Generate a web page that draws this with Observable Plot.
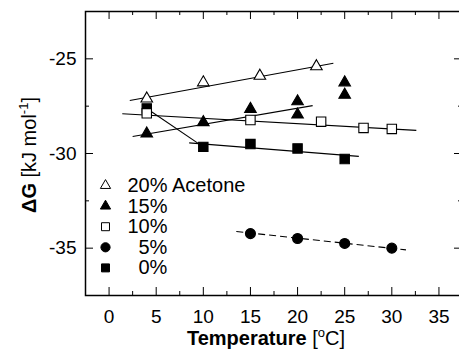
<!DOCTYPE html>
<html><head><meta charset="utf-8">
<script src="https://cdn.jsdelivr.net/npm/d3@7"></script>
<script src="https://cdn.jsdelivr.net/npm/@observablehq/plot@0.6"></script>
<style>
html,body{margin:0;padding:0;background:#fff;overflow:hidden;}
</style></head><body><div id="chart"></div>
<script>
// ---- data ----
const temps20 = [4, 10, 16, 22];
const dG20 = [-27.1, -26.25, -25.9, -25.4];
const temps15 = [4, 10, 15, 20, 20, 25, 25];
const dG15 = [-28.95, -28.35, -27.65, -27.25, -27.95, -26.25, -26.9];
const temps10 = [4, 15, 22.5, 27, 30];
const dG10 = [-27.88, -28.23, -28.32, -28.65, -28.7];
const temps5 = [15, 20, 25, 30];
const dG5 = [-34.23, -34.49, -34.75, -35.0];
const temps0 = [4, 10, 15, 20, 25];
const dG0 = [-27.62, -29.65, -29.5, -29.73, -30.29];

// drawn fit lines: [t start, dG start, t end, dG end]
const fit20 = [2.2, -27.2, 23.8, -25.23];
const fit15 = [2.5, -29.1, 21.6, -27.47];
const fit10 = [1.4, -27.9, 32.6, -28.78];
const fit5 = [13.5, -34.12, 31.5, -35.09];
const fit0 = [8.5, -29.44, 26.5, -30.15];
const join0 = [4, -27.62, 10, -29.65];

const seriesKeys = ["20%", "15%", "10%", "5%", "0%"];
const legendLabels = ["20% Acetone", "15%", "10%", "5%", "0%"];
const xTicks = [0, 5, 10, 15, 20, 25, 30, 35];
const xMinorTicks = [2.5, 7.5, 12.5, 17.5, 22.5, 27.5, 32.5];
const yTicks = [-25, -30, -35];
const yMinorTicks = [-27.5, -32.5];

// ---- styles ----
const W = 462, H = 356, mL = 85, mT = 11, mB = 61, mR = 0;
const FH = H - mT - mB, FW = W - mL - mR;
const FONT = "Liberation Sans, Arial, Helvetica, sans-serif";
const style = {
  "20%": {symbol: "triangle", fill: "white", r: 4.3, lr: 3.8},
  "15%": {symbol: "triangle", fill: "black", r: 4.3, lr: 3.8},
  "10%": {symbol: "square", fill: "white", r: 5.3, lr: 4.5},
  "5%":  {symbol: "circle", fill: "black", r: 5, lr: 4.6},
  "0%":  {symbol: "square", fill: "black", r: 5.3, lr: 4.5}
};
const pts = {
  "20%": temps20.map((t, i) => ({t, g: dG20[i]})),
  "15%": temps15.map((t, i) => ({t, g: dG15[i]})),
  "10%": temps10.map((t, i) => ({t, g: dG10[i]})),
  "5%":  temps5.map((t, i) => ({t, g: dG5[i]})),
  "0%":  temps0.map((t, i) => ({t, g: dG0[i]}))
};
const seg = {x1: d => d[0], y1: d => d[1], x2: d => d[2], y2: d => d[3], stroke: "black", strokeWidth: 1.1};

const marks = [
  Plot.link([fit20, fit15, fit10, fit0, join0], seg),
  Plot.link([fit5], {...seg, strokeDasharray: "7,4"}),
];
// draw order: 0%, 5%, 10%, 15%, 20%
for (const k of ["0%", "5%", "10%", "15%", "20%"]) {
  const s = style[k];
  marks.push(Plot.dot(pts[k], {x: "t", y: "g", symbol: () => s.symbol, r: s.r, fill: s.fill, stroke: "black", strokeWidth: 1.1}));
}
// legend
seriesKeys.forEach((k, i) => {
  const s = style[k];
  const rowY = 174 + i * 20.6;
  marks.push(Plot.dot([k], {frameAnchor: "top-left", dx: 20, dy: rowY, symbol: () => s.symbol, r: s.lr, fill: s.fill, stroke: "black", strokeWidth: 1}));
  marks.push(Plot.text([legendLabels[i]], {frameAnchor: "top-left", dx: i < 3 ? 42 : 53, dy: rowY, text: d => d, textAnchor: "start", lineAnchor: "middle", fontSize: 20, fill: "black"}));
});
// inward ticks
const tk = {stroke: "black", strokeWidth: 1};
marks.push(
  Plot.tickX(xTicks, {x: d => d, insetTop: FH - 8, ...tk}),
  Plot.tickX(xTicks, {x: d => d, insetBottom: FH - 8, ...tk}),
  Plot.tickX(xMinorTicks, {x: d => d, insetTop: FH - 4, ...tk}),
  Plot.tickX(xMinorTicks, {x: d => d, insetBottom: FH - 4, ...tk}),
  Plot.tickY(yTicks, {y: d => d, insetRight: FW - 8, ...tk}),
  Plot.tickY(yTicks, {y: d => d, insetLeft: FW - 8, ...tk}),
  Plot.tickY(yMinorTicks, {y: d => d, insetRight: FW - 4, ...tk}),
  Plot.tickY(yMinorTicks, {y: d => d, insetLeft: FW - 4, ...tk}),
  Plot.axisX(xTicks, {tickSize: 0, tickPadding: 14, fontSize: 19, tickFormat: d => String(d), label: null}),
  Plot.axisY(yTicks, {tickSize: 0, tickPadding: 9, fontSize: 19, tickFormat: d => String(d), label: null}),
  Plot.frame({stroke: "black", strokeWidth: 1.5})
);

const chart = Plot.plot({
  width: W, height: H,
  marginLeft: mL, marginTop: mT, marginBottom: mB, marginRight: mR,
  style: {fontFamily: FONT, color: "black", background: "white", maxWidth: "none", overflow: "visible"},
  x: {domain: [-2.5, 37.5]},
  y: {domain: [-37.5, -22.5]},
  marks
});
document.getElementById("chart").appendChild(chart);

// axis titles with mixed formatting
const svg = d3.select(chart);
const xt = svg.append("text")
  .attr("x", 266).attr("y", 345)
  .attr("text-anchor", "middle")
  .attr("font-family", FONT).attr("font-size", 20).attr("fill", "black");
xt.append("tspan").attr("font-weight", "bold").text("Temperature");
xt.append("tspan").text(" [");
xt.append("tspan").attr("font-size", 13).attr("dy", -8).text("o");
xt.append("tspan").attr("dy", 8).text("C]");

const yt = svg.append("text")
  .attr("transform", "translate(35.5,155) rotate(-90)")
  .attr("text-anchor", "middle")
  .attr("font-family", FONT).attr("font-size", 20).attr("fill", "black");
yt.append("tspan").attr("font-weight", "bold").text("ΔG");
yt.append("tspan").text(" [kJ mol");
yt.append("tspan").attr("font-size", 13).attr("dy", -8).text("-1");
yt.append("tspan").attr("dy", 8).text("]");
</script></body></html>
